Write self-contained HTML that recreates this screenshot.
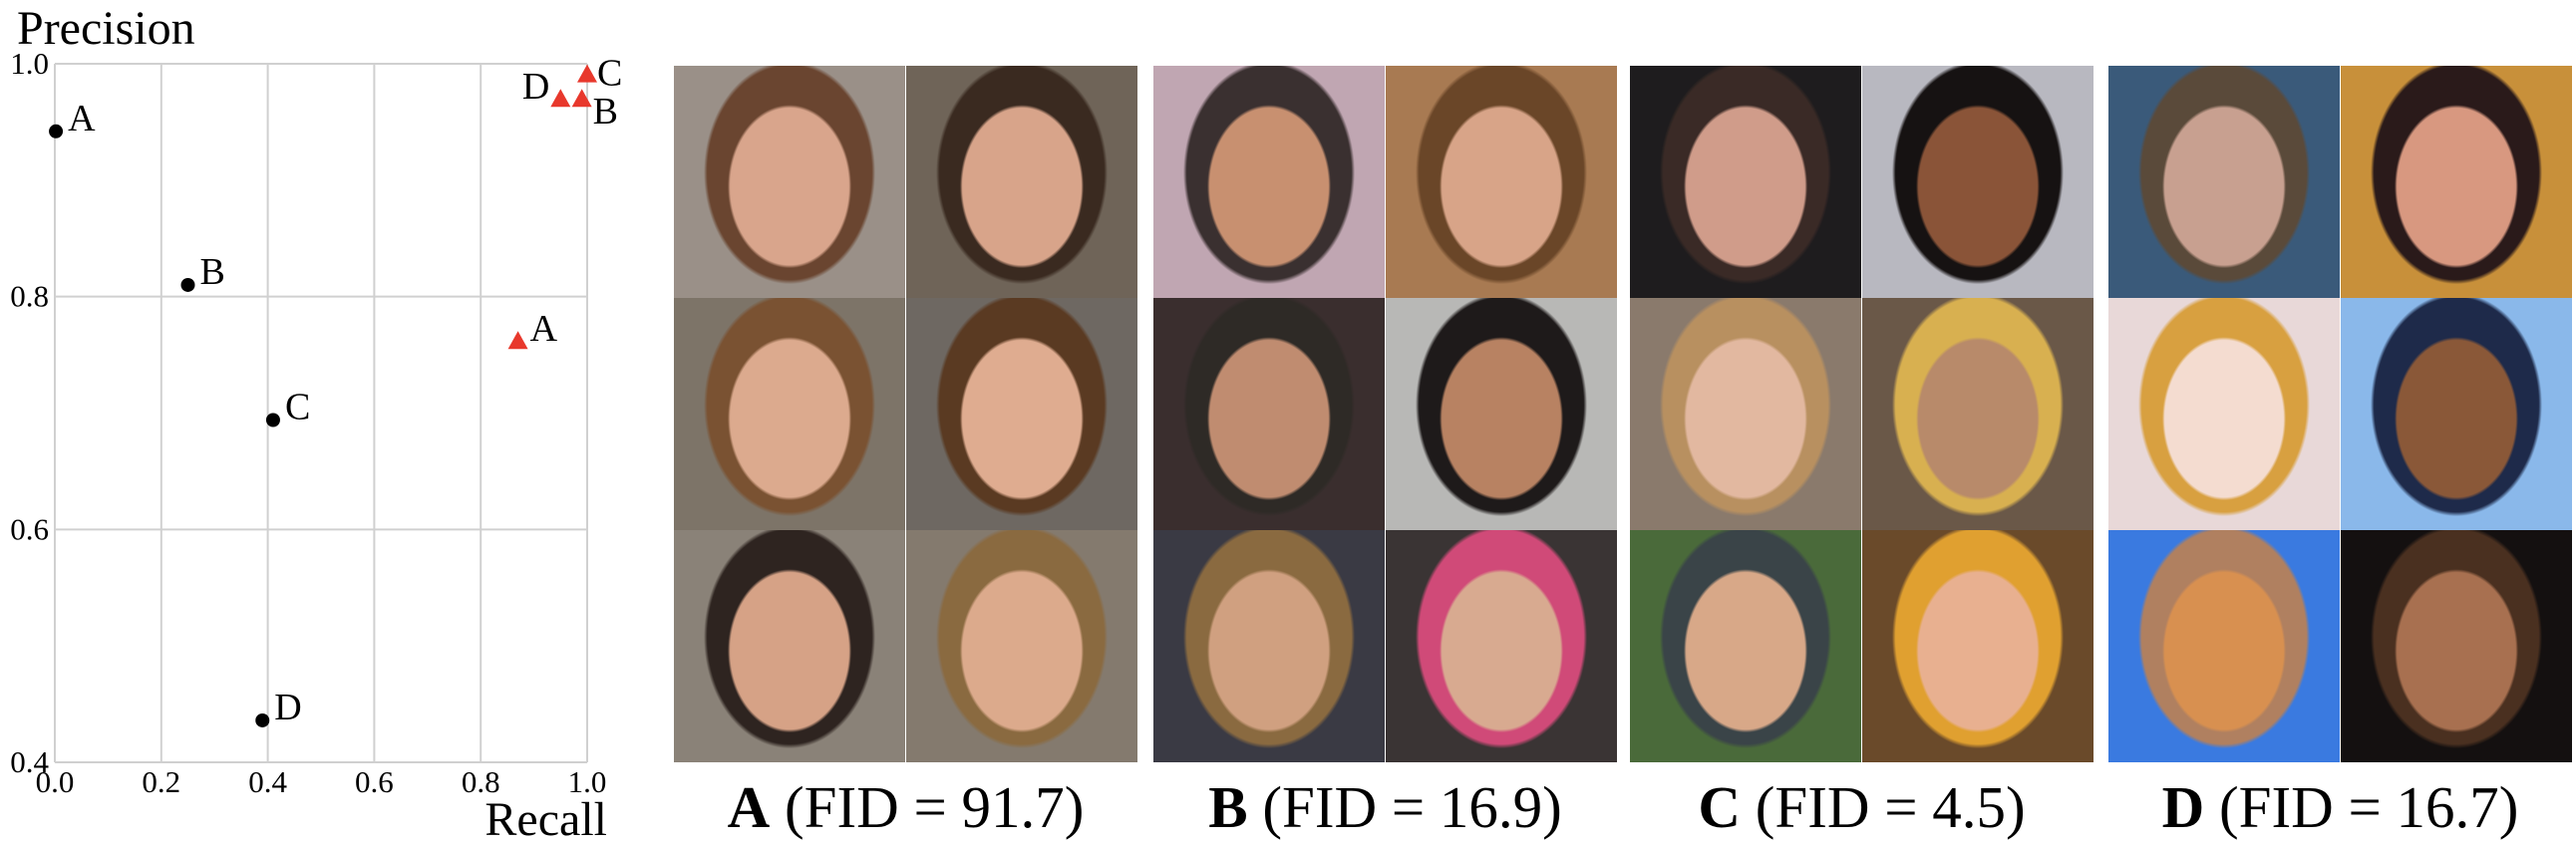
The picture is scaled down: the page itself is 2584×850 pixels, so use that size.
<!DOCTYPE html>
<html><head><meta charset="utf-8"><style>
html,body{margin:0;padding:0;background:#fff;width:2584px;height:850px;overflow:hidden;position:relative;font-family:"Liberation Serif",serif}
.grp{position:absolute;top:66px;width:465px;height:699px}
.cell{position:absolute;width:232px;height:233px;overflow:hidden}
.lbl{position:absolute;top:776px;width:465px;text-align:center;font-size:59px;color:#000;white-space:nowrap}
.lbl b{font-weight:bold}
</style></head><body>
<svg id="chart" width="660" height="850" style="position:absolute;left:0;top:0" font-family="Liberation Serif, serif"></svg>
<div id="grid"></div>
<script>
const xTicks=[0.0,0.2,0.4,0.6,0.8,1.0];
const yTicks=[0.4,0.6,0.8,1.0];
const dotLabels=["A","B","C","D"];
const dotRecall=[0.002,0.25,0.41,0.39];
const dotPrecision=[0.942,0.81,0.694,0.436];
const triLabels=["A","B","C","D"];
const triRecall=[0.87,0.99,1.0,0.95];
const triPrecision=[0.761,0.969,0.99,0.969];

const NS="http://www.w3.org/2000/svg";
const svg=document.getElementById('chart');
const X0=55,X1=589,Y0=765,Y1=64;
const sx=v=>X0+(v-0)*(X1-X0)/1.0;
const sy=v=>Y0-(v-0.4)*(Y0-Y1)/0.6;
function mk(t,a,txt){const e=document.createElementNS(NS,t);for(const k in a)e.setAttribute(k,a[k]);if(txt!==undefined)e.textContent=txt;svg.appendChild(e);return e;}
xTicks.forEach(v=>{
 const l=mk('line',{x1:sx(v),x2:sx(v),y1:Y1,y2:Y0,stroke:'#d0d0d0','stroke-width':2});
 
 
 const t=mk('text',{x:sx(v),y:Y0+30,'font-size':31,'text-anchor':'middle'},v.toFixed(1));
 
 
});
yTicks.forEach(v=>{
 const l=mk('line',{x1:X0,x2:X1,y1:sy(v),y2:sy(v),stroke:'#d0d0d0','stroke-width':2});
 
 
 const t=mk('text',{x:X0-6,y:sy(v)+10,'font-size':31,'text-anchor':'end'},v.toFixed(1));
 
 
});
const yt=mk('text',{x:17,y:44,'font-size':48},'Precision');


const xt=mk('text',{x:609,y:838,'font-size':48,'text-anchor':'end'},'Recall');


dotLabels.forEach((n,i)=>{
 const c=mk('ellipse',{cx:sx(dotRecall[i]),cy:sy(dotPrecision[i]),rx:7,ry:7,fill:'#000'});
 
 
 const t=mk('text',{x:sx(dotRecall[i])+12,y:sy(dotPrecision[i])-1,'font-size':38},n);
 
 
});
triLabels.forEach((n,i)=>{
 const x=sx(triRecall[i]),y=sy(triPrecision[i]);
 const p=mk('polygon',{points:`${x-10},${y+7} ${x+10},${y+7} ${x},${y-11}`,fill:'#e8382c'});
 
 
 let tx=x+12,ty=y-1,anchor='start';
 if(n==='D'){tx=x-11;ty=y-1;anchor='end';}
 if(n==='B'){tx=x+11;ty=y+24;}
 if(n==='C'){tx=x+10;ty=y+10;}
 const t=mk('text',{x:tx,y:ty,'font-size':38,'text-anchor':anchor},n);
 
 
});

// face grid
const groups=[
 {name:'A',fid:'91.7',left:676,cells:[['#9a9088','#d9a58c','#6a4530'],['#6f6458','#d8a48a','#3a2a20'],['#7d7468','#dcaa8e','#7a5232'],['#6e6862','#dfac90','#5a3a22'],['#8a8278','#d6a286','#2e2420'],['#847a6e','#dcaa8c','#8a6a40']]},
 {name:'B',fid:'16.9',left:1157,cells:[['#c0a6b2','#c89070','#3a3030'],['#a87a52','#d8a488','#6a4628'],['#3a2e2e','#c08c70','#2e2a26'],['#b8b8b6','#b88262','#1e1a1a'],['#3a3a44','#d0a080','#8a6a40'],['#3a3434','#d8aa90','#d04a78']]},
 {name:'C',fid:'4.5',left:1635,cells:[['#1e1c1e','#d09c8a','#3a2a26'],['#b8b8c0','#8a5438','#161212'],['#8a7a6c','#e2b8a0','#b89060'],['#6a5848','#b88a6a','#d8b050'],['#4a6a3a','#d8a888','#3a4448'],['#6a4a2a','#e8b090','#e0a030']]},
 {name:'D',fid:'16.7',left:2115,cells:[['#3a5a7a','#c8a090','#5a4a3a'],['#c8903a','#d89880','#2a1a1a'],['#e8d8d8','#f4dcd0','#d8a040'],['#8ab8ea','#8a5838','#1e2a4a'],['#3a7ae0','#d89050','#b08060'],['#141010','#a87050','#4a3020']]}
];
const G=document.getElementById('grid');
groups.forEach(g=>{
 const d=document.createElement('div');d.className='grp';d.style.left=g.left+'px';
 
 
 g.cells.forEach((c,i)=>{
  const r=Math.floor(i/2),col=i%2;
  const e=document.createElement('div');e.className='cell';
  e.style.left=(col*233)+'px';e.style.top=(r*233)+'px';
  e.style.background=`radial-gradient(ellipse 62px 82px at 50% 52%, ${c[1]} 96%, transparent 100%), radial-gradient(ellipse 86px 112px at 50% 46%, ${c[2]} 96%, transparent 100%), ${c[0]}`;
  
  
  d.appendChild(e);
 });
 G.appendChild(d);
 const l=document.createElement('div');l.className='lbl';l.style.left=g.left+'px';
 l.innerHTML='<b>'+g.name+'</b> (FID = '+g.fid+')';
 
 
 G.appendChild(l);
});
</script>
</body></html>
